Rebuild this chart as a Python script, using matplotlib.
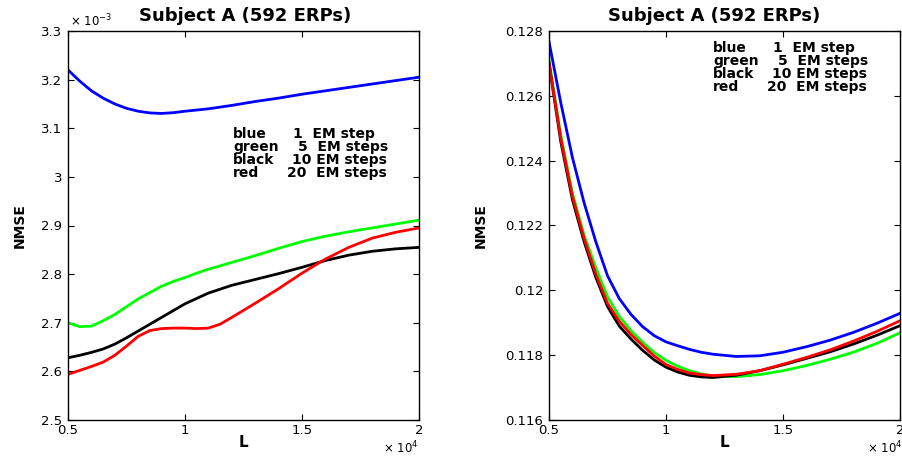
"""Two-panel NMSE vs L figure (Subject A, EM steps)."""

import matplotlib
matplotlib.use('Agg')
import matplotlib.pyplot as plt
from matplotlib.ticker import FormatStrFormatter, MultipleLocator
from matplotlib import rcParams

rcParams['font.family'] = ['DejaVu Sans']
rcParams['mathtext.fontset'] = 'dejavusans'

# L axis in units of 1e4
L = [0.5, 0.55, 0.6, 0.65, 0.7, 0.75, 0.8, 0.85, 0.9, 0.95, 1.0, 1.05,
     1.1, 1.15, 1.2, 1.3, 1.4, 1.5, 1.6, 1.7, 1.8, 1.9, 2.0]

# left panel, NMSE in units of 1e-3
left_blue = [3.220, 3.197, 3.177, 3.162, 3.150, 3.141, 3.135, 3.1315, 3.1305, 3.132, 3.135, 3.1375,
             3.140, 3.1435, 3.147, 3.155, 3.162, 3.170, 3.177, 3.184, 3.191, 3.198, 3.205]
left_green = [2.700, 2.692, 2.693, 2.704, 2.717, 2.733, 2.749, 2.762, 2.775, 2.785, 2.793, 2.802,
              2.810, 2.817, 2.824, 2.838, 2.853, 2.867, 2.878, 2.887, 2.895, 2.903, 2.911]
left_black = [2.628, 2.633, 2.639, 2.646, 2.656, 2.669, 2.683, 2.697, 2.711, 2.725, 2.739, 2.750,
              2.761, 2.769, 2.777, 2.789, 2.801, 2.814, 2.828, 2.839, 2.847, 2.852, 2.855]
left_red = [2.594, 2.602, 2.610, 2.619, 2.633, 2.652, 2.672, 2.684, 2.688, 2.689, 2.689, 2.688,
            2.689, 2.697, 2.711, 2.740, 2.770, 2.802, 2.831, 2.855, 2.874, 2.886, 2.895]

# right panel, NMSE
right_blue = [0.12767, 0.12580, 0.12410, 0.12270, 0.12150, 0.12045, 0.11975, 0.11926, 0.11888,
              0.11860, 0.11841, 0.11829, 0.11818, 0.11809, 0.11803, 0.11796, 0.11798, 0.11809,
              0.11826, 0.11846, 0.11870, 0.11898, 0.11929]
right_green = [0.12710, 0.12480, 0.12300, 0.12170, 0.12070, 0.11980, 0.11920, 0.11876, 0.11840,
               0.11808, 0.11784, 0.11766, 0.11752, 0.11742, 0.11736, 0.11734, 0.11740, 0.11752,
               0.11768, 0.11787, 0.11809, 0.11836, 0.11869]
right_black = [0.12700, 0.12460, 0.12280, 0.12150, 0.12040, 0.11950, 0.11890, 0.11850, 0.11815,
               0.11785, 0.11763, 0.11748, 0.11738, 0.11733, 0.11731, 0.11738, 0.11752, 0.11770,
               0.11790, 0.11810, 0.11834, 0.11861, 0.11891]
right_red = [0.12701, 0.12470, 0.12290, 0.12160, 0.12050, 0.11960, 0.11905, 0.11864, 0.11830,
             0.11797, 0.11771, 0.11756, 0.11745, 0.11740, 0.11737, 0.11741, 0.11752, 0.11772,
             0.11793, 0.11816, 0.11843, 0.11873, 0.11906]

TITLE = 'Subject A (592 ERPs)'
LEGEND_NAMES = ['blue', 'green', 'black', 'red']
LEGEND_STEPS = ['1  EM step', '5  EM steps', '10 EM steps', '20  EM steps']
LEGEND_OFFS = [60, 65, 59, 54]   # px from name start to step count

COLORS = ['#0000ff', '#00ff00', '#000000', '#ff0000']
AX_W_PX = 351.0
AX_H_PX = 389.0

fig = plt.figure(figsize=(9.03, 4.58), dpi=100)
fig.patch.set_facecolor('white')

ax1 = fig.add_axes([68/903, 1-420/458, AX_W_PX/903, AX_H_PX/458])
ax2 = fig.add_axes([549/903, 1-420/458, AX_W_PX/903, AX_H_PX/458])


def style_axes(ax, ylim, ystep):
    ax.set_xlim(0.5, 2.0)
    ax.set_ylim(*ylim)
    ax.xaxis.set_major_locator(MultipleLocator(0.5))
    ax.yaxis.set_major_locator(MultipleLocator(ystep))
    ax.xaxis.set_major_formatter(FormatStrFormatter('%g'))
    ax.yaxis.set_major_formatter(FormatStrFormatter('%g'))
    ax.tick_params(direction='in', length=4.5, width=0.8, top=True, right=True,
                   labelsize=9.5, pad=4)
    ax.tick_params(axis='x', pad=3)
    for s in ax.spines.values():
        s.set_linewidth(1.0)


def draw_legend(ax, x_px, y_px_list, y0_px):
    for name, steps, off, ypx in zip(LEGEND_NAMES, LEGEND_STEPS, LEGEND_OFFS, y_px_list):
        yf = (y0_px - ypx) / AX_H_PX
        ax.text(x_px / AX_W_PX, yf, name, transform=ax.transAxes, ha='left', va='center',
                fontsize=10, fontweight='bold')
        ax.text((x_px + off) / AX_W_PX, yf, steps, transform=ax.transAxes, ha='left',
                va='center', fontsize=10, fontweight='bold')


# left panel
for y, c in zip([left_blue, left_green, left_black, left_red], COLORS):
    ax1.plot(L, y, color=c, lw=2.0)
style_axes(ax1, (2.5, 3.3), 0.1)
ax1.text(0.506, 1.0386, TITLE, transform=ax1.transAxes, ha='center', va='center',
         fontsize=13, fontweight='bold')
ax1.text(0.006, 1.012, '× 10$^{-3}$', transform=ax1.transAxes, ha='left', va='baseline',
         fontsize=8.5)
ax1.text(0.997, -0.085, '× 10$^{4}$', transform=ax1.transAxes, ha='right', va='baseline',
         fontsize=8.5)
ax1.set_xlabel('L', fontsize=11, fontweight='bold', va='center')
ax1.xaxis.set_label_coords(0.501, -0.059)
ax1.set_ylabel('NMSE', fontsize=10, fontweight='bold', va='center')
ax1.yaxis.set_label_coords(-0.137, 0.50)
draw_legend(ax1, 233 - 68, [134, 147, 160, 173], 420)

# right panel
for y, c in zip([right_blue, right_green, right_black, right_red], COLORS):
    ax2.plot(L, y, color=c, lw=2.0)
style_axes(ax2, (0.116, 0.128), 0.002)
ax2.text(0.470, 1.0386, TITLE, transform=ax2.transAxes, ha='center', va='center',
         fontsize=13, fontweight='bold')
ax2.text(1.006, -0.085, '× 10$^{4}$', transform=ax2.transAxes, ha='right', va='baseline',
         fontsize=8.5)
ax2.set_xlabel('L', fontsize=11, fontweight='bold', va='center')
ax2.xaxis.set_label_coords(0.501, -0.059)
ax2.set_ylabel('NMSE', fontsize=10, fontweight='bold', va='center')
ax2.yaxis.set_label_coords(-0.194, 0.50)
draw_legend(ax2, 713 - 549, [48, 61, 74, 87], 420)

fig.savefig('out.png', dpi=100, facecolor='white')
plt.close(fig)
